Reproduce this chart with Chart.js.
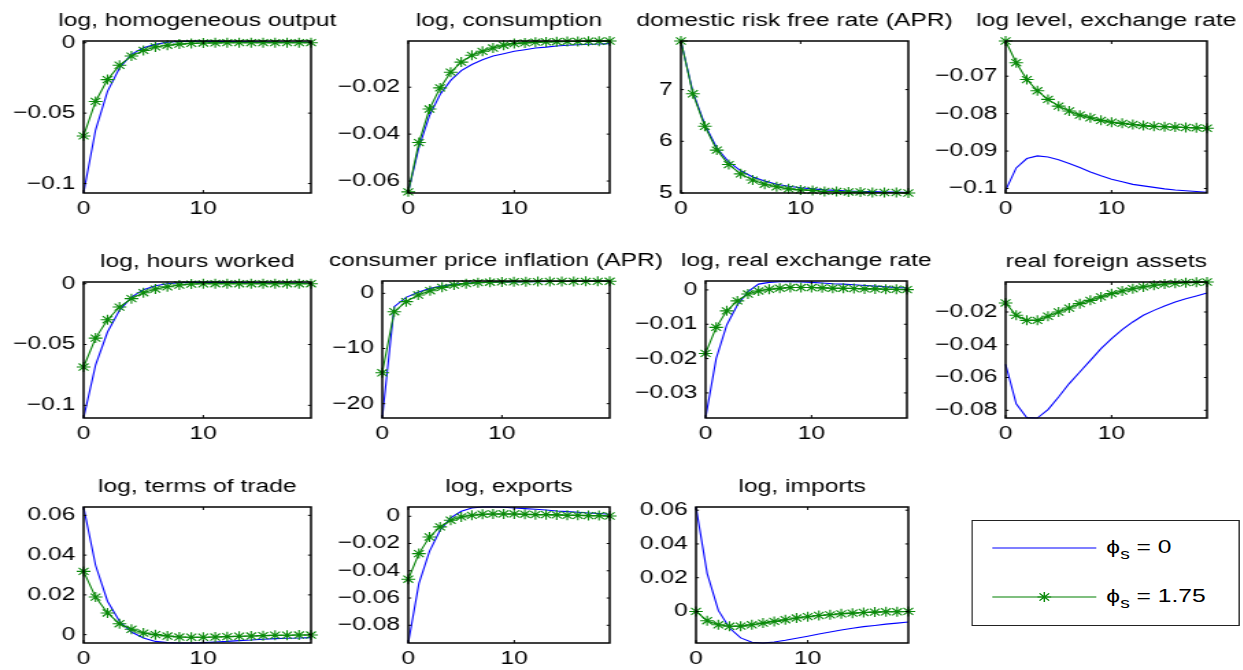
<!DOCTYPE html>
<html>
<head>
<meta charset="utf-8">
<script src="https://cdn.jsdelivr.net/npm/chart.js@4.4.1/dist/chart.umd.min.js"></script>
<style>
  html, body { margin: 0; padding: 0; background: #fff; overflow: hidden; }
  #page { position: absolute; left: 0; top: 0; width: 908px; height: 670px; transform: scaleX(1.37); transform-origin: 0 0; }
  #page canvas { position: absolute; }
  #legend { position: absolute; border: 1.5px solid #222; box-sizing: border-box; background: #fff; }
</style>
</head>
<body>
<div id="page"></div>
<script>
// horizon (quarters after the shock)
const steps = [0, 1, 2, 3, 4, 5, 6, 7, 8, 9, 10, 11, 12, 13, 14, 15, 16, 17, 18, 19];
const xTicks = [0, 10];
const phiValues = ['0', '1.75'];

const titles = [
  'log, homogeneous output', 'log, consumption', 'domestic risk free rate (APR)', 'log level, exchange rate',
  'log, hours worked', 'consumer price inflation (APR)', 'log, real exchange rate', 'real foreign assets',
  'log, terms of trade', 'log, exports', 'log, imports'
];

// phi_s = 0 (blue) and phi_s = 1.75 (green) responses
const outputPhi0 = [-0.1067, -0.062, -0.0345, -0.018, -0.0083, -0.0036, -0.0012, 0.0003, 0.0008, 0.001, 0.001, 0.0009, 0.0008, 0.0007, 0.0006, 0.0005, 0.0004, 0.0003, 0.0003, 0.0002];
const outputPhi175 = [-0.0662, -0.0417, -0.0262, -0.016, -0.0095, -0.0055, -0.003, -0.0018, -0.001, -0.0005, -0.0002, -0.0001, 0, 0, 0, 0, 0, 0, 0, 0];
const consPhi0 = [-0.0646, -0.0457, -0.0321, -0.0231, -0.0171, -0.0129, -0.0103, -0.0083, -0.0067, -0.0057, -0.0047, -0.004, -0.0033, -0.0029, -0.0024, -0.0021, -0.0019, -0.0017, -0.0016, -0.0014];
const consPhi175 = [-0.0646, -0.0436, -0.0293, -0.0203, -0.0136, -0.0093, -0.0064, -0.0047, -0.0033, -0.0021, -0.0014, -0.0011, -0.0008, -0.0007, -0.0006, -0.0005, -0.0005, -0.0004, -0.0004, -0.0003];
const ratePhi0 = [7.94, 6.95, 6.32, 5.87, 5.6, 5.43, 5.31, 5.23, 5.17, 5.13, 5.1, 5.08, 5.06, 5.05, 5.04, 5.03, 5.03, 5.02, 5.02, 5.01];
const ratePhi175 = [7.94, 6.92, 6.29, 5.83, 5.55, 5.37, 5.25, 5.17, 5.12, 5.08, 5.06, 5.05, 5.03, 5.03, 5.02, 5.02, 5.01, 5.01, 5.01, 5.0];
const fxPhi0 = [-0.1005, -0.0945, -0.092, -0.0913, -0.0916, -0.0923, -0.0933, -0.0944, -0.0956, -0.0966, -0.0975, -0.0982, -0.0989, -0.0993, -0.0997, -0.1001, -0.1004, -0.1006, -0.1008, -0.101];
const fxPhi175 = [-0.0606, -0.0664, -0.0709, -0.0739, -0.0762, -0.078, -0.0793, -0.0804, -0.0811, -0.0818, -0.0823, -0.0826, -0.0829, -0.0832, -0.0834, -0.0835, -0.0836, -0.0837, -0.0838, -0.0839];
const hoursPhi0 = [-0.1104, -0.067, -0.0397, -0.0219, -0.011, -0.0049, -0.0016, 0, 0.0008, 0.0011, 0.0012, 0.0011, 0.001, 0.0009, 0.0008, 0.0007, 0.0006, 0.0005, 0.0005, 0.0004];
const hoursPhi175 = [-0.0685, -0.0447, -0.0296, -0.0192, -0.0123, -0.0074, -0.0044, -0.0025, -0.0011, -0.0003, -0.0001, 0, 0, 0, 0, 0, 0, 0, 0, 0];
const cpiPhi0 = [-22.6, -2.42, -0.73, 0.18, 0.9, 1.33, 1.64, 1.82, 1.94, 2.01, 2.06, 2.09, 2.11, 2.13, 2.14, 2.15, 2.16, 2.17, 2.17, 2.18];
const cpiPhi175 = [-14.4, -3.33, -1.5, -0.3, 0.48, 1.09, 1.5, 1.76, 1.94, 2.02, 2.07, 2.1, 2.12, 2.14, 2.15, 2.16, 2.17, 2.18, 2.18, 2.19];
const rerPhi0 = [-0.0373, -0.02, -0.0102, -0.0044, -0.0005, 0.0017, 0.0022, 0.0024, 0.0024, 0.0023, 0.0022, 0.002, 0.0018, 0.0017, 0.0015, 0.0013, 0.0011, 0.0009, 0.0007, 0.0006];
const rerPhi175 = [-0.0185, -0.0109, -0.0061, -0.0032, -0.0012, -0.0003, 0.0002, 0.0005, 0.0007, 0.0007, 0.0007, 0.0006, 0.0005, 0.0005, 0.0004, 0.0003, 0.0003, 0.0002, 0.0002, 0.0001];
const assetsPhi0 = [-0.0519, -0.076, -0.0845, -0.0847, -0.0796, -0.0719, -0.0637, -0.0566, -0.0495, -0.0424, -0.0363, -0.0308, -0.0261, -0.022, -0.019, -0.0163, -0.0139, -0.0119, -0.0102, -0.0084];
const assetsPhi175 = [-0.0145, -0.022, -0.0251, -0.0251, -0.0226, -0.02, -0.0176, -0.0149, -0.0129, -0.0108, -0.0088, -0.0072, -0.0058, -0.0047, -0.0037, -0.0029, -0.0025, -0.0021, -0.0019, -0.0017];
const totPhi0 = [0.0642, 0.0349, 0.0168, 0.0067, 0.0013, -0.0017, -0.0034, -0.004, -0.0042, -0.0042, -0.004, -0.0037, -0.0034, -0.003, -0.0027, -0.0023, -0.002, -0.0018, -0.0017, -0.0015];
const totPhi175 = [0.0318, 0.0189, 0.0109, 0.0055, 0.0027, 0.0008, 0, -0.0007, -0.0012, -0.0013, -0.0013, -0.0012, -0.001, -0.0008, -0.0007, -0.0005, -0.0003, -0.0003, -0.0002, -0.0002];
const exportsPhi0 = [-0.093, -0.0494, -0.0257, -0.0103, -0.0012, 0.0037, 0.0061, 0.0068, 0.0068, 0.0066, 0.0061, 0.0056, 0.0051, 0.0046, 0.0039, 0.0034, 0.0029, 0.0024, 0.002, 0.0015];
const exportsPhi175 = [-0.0462, -0.0274, -0.0152, -0.0078, -0.0029, -0.0005, 0.0007, 0.0015, 0.0017, 0.0017, 0.0017, 0.0015, 0.0012, 0.0012, 0.001, 0.0007, 0.0007, 0.0005, 0.0005, 0.0002];
const importsPhi0 = [0.062, 0.0226, 0.0006, -0.0098, -0.0157, -0.0183, -0.0187, -0.0181, -0.0171, -0.0159, -0.0147, -0.0134, -0.0122, -0.011, -0.01, -0.009, -0.0083, -0.0075, -0.0069, -0.0063];
const importsPhi175 = [0, -0.0055, -0.0079, -0.0088, -0.0087, -0.0079, -0.0069, -0.0059, -0.0049, -0.0039, -0.0031, -0.0024, -0.002, -0.0014, -0.001, -0.0006, -0.0004, -0.0002, -0.0002, 0];

const bluePanels = [outputPhi0, consPhi0, ratePhi0, fxPhi0, hoursPhi0, cpiPhi0, rerPhi0, assetsPhi0, totPhi0, exportsPhi0, importsPhi0];
const greenPanels = [outputPhi175, consPhi175, ratePhi175, fxPhi175, hoursPhi175, cpiPhi175, rerPhi175, assetsPhi175, totPhi175, exportsPhi175, importsPhi175];

// y tick labels and axis limits (tight, as in the original)
const yTicks = [
  [-0.1, -0.05, 0], [-0.06, -0.04, -0.02], [5, 6, 7], [-0.1, -0.09, -0.08, -0.07],
  [-0.1, -0.05, 0], [-20, -10, 0], [-0.03, -0.02, -0.01, 0], [-0.08, -0.06, -0.04, -0.02],
  [0, 0.02, 0.04, 0.06], [-0.08, -0.06, -0.04, -0.02, 0], [0, 0.02, 0.04, 0.06]
];
const yLimits = [
  [-0.1067, 0.0012], [-0.0651, -0.0003], [5.0, 7.94], [-0.1012, -0.0606],
  [-0.1104, 0.0014], [-22.6, 2.24], [-0.0373, 0.0026], [-0.0847, -0.0017],
  [-0.0042, 0.0642], [-0.093, 0.0068], [-0.0187, 0.0619]
];

// layout: plot boxes in page pixels [left, top, right, bottom]
const S = 1.37;
const boxes = [
  [83, 41, 310, 193], [408, 41, 609, 193], [681, 41, 908, 193], [1005, 41, 1207, 193],
  [83, 282, 310, 418], [382, 281, 609, 418], [706, 281, 908, 418], [1005, 282, 1207, 418],
  [83, 507, 310, 643], [408, 507, 609, 643], [696, 507, 908, 643]
];
const YW = 60, TH = 36, XH = 30;
const FONT = '"Liberation Sans", Arial, sans-serif';

Chart.defaults.font.family = FONT;
Chart.defaults.font.size = 18;
Chart.defaults.color = '#000';

const minus = v => String(v).replace('-', '\u2212');

const framePlugin = {
  id: 'frame',
  afterDraw(chart, args, opts) {
    const ctx = chart.ctx;
    const a = chart.chartArea;
    const x = chart.scales.x, y = chart.scales.y;
    ctx.save();
    ctx.strokeStyle = '#000';
    ctx.lineWidth = 1;
    ctx.beginPath();
    x.ticks.forEach(t => {
      const px = x.getPixelForValue(t.value);
      ctx.moveTo(px, a.bottom); ctx.lineTo(px, a.bottom - 3);
      ctx.moveTo(px, a.top); ctx.lineTo(px, a.top + 3);
    });
    y.ticks.forEach(t => {
      const py = y.getPixelForValue(t.value);
      ctx.moveTo(a.left, py); ctx.lineTo(a.left + 2.2, py);
      ctx.moveTo(a.right, py); ctx.lineTo(a.right - 2.2, py);
    });
    ctx.stroke();
    ctx.lineWidth = 1.5;
    ctx.strokeRect(a.left, a.top, a.right - a.left, a.bottom - a.top);
    ctx.fillStyle = '#000';
    ctx.font = '18px ' + FONT;
    ctx.textAlign = 'center';
    ctx.textBaseline = 'alphabetic';
    ctx.fillText(opts.text, (a.left + a.right) / 2, a.top - 15);
    ctx.restore();
  }
};

const page = document.getElementById('page');

boxes.forEach((b, i) => {
  const left = b[0] / S, right = b[2] / S;
  const boxW = Math.round(right - left);
  const boxH = b[3] - b[1];
  const canvas = document.createElement('canvas');
  canvas.width = boxW + 2 * YW;
  canvas.height = boxH + TH + XH;
  canvas.style.left = (left - YW) + 'px';
  canvas.style.top = (b[1] - TH) + 'px';
  page.appendChild(canvas);

  new Chart(canvas, {
    type: 'line',
    data: {
      labels: steps,
      datasets: [
        {
          data: bluePanels[i], borderColor: '#0000ff', borderWidth: 1.1,
          pointRadius: 0, order: 1, clip: false
        },
        {
          data: greenPanels[i], borderColor: '#008000', borderWidth: 1.1,
          pointStyle: 'star', pointRadius: 5, pointBorderColor: '#0a8a0a',
          pointBackgroundColor: '#0a8a0a', pointBorderWidth: 1.1, order: 0, clip: false
        }
      ]
    },
    options: {
      responsive: false,
      animation: false,
      events: [],
      layout: { autoPadding: false, padding: { left: 0, right: YW, top: TH, bottom: 0 } },
      plugins: {
        legend: { display: false },
        tooltip: { enabled: false },
        frame: { text: titles[i] }
      },
      scales: {
        x: {
          type: 'linear', min: 0, max: 19,
          grid: { display: false, drawTicks: false }, border: { display: false },
          ticks: { padding: 5, maxRotation: 0, autoSkip: false },
          afterBuildTicks: axis => { axis.ticks = xTicks.map(v => ({ value: v })); },
          afterFit: axis => { axis.height = XH; }
        },
        y: {
          type: 'linear', min: yLimits[i][0], max: yLimits[i][1],
          grid: { display: false, drawTicks: false }, border: { display: false },
          ticks: { padding: 6, autoSkip: false, callback: v => minus(v) },
          afterBuildTicks: axis => { axis.ticks = yTicks[i].map(v => ({ value: v })); },
          afterFit: axis => { axis.width = YW; }
        }
      }
    },
    plugins: [framePlugin]
  });
});

// legend box
const lg = document.createElement('div');
lg.id = 'legend';
const lgL = 972 / S, lgR = 1240 / S;
lg.style.left = lgL + 'px';
lg.style.top = '520px';
lg.style.width = (lgR - lgL) + 'px';
lg.style.height = '106px';
const lineX0 = (993 - 972) / S, lineX1 = (1097 - 972) / S, starX = (1045 - 972) / S, textX = (1107 - 972) / S;
const rows = [{ y: 28, color: '#0000ff', star: false }, { y: 77, color: '#008000', star: true }];
let svg = '<svg width="' + (lgR - lgL) + '" height="104" style="position:absolute;left:-1.5px;top:-1.5px" xmlns="http://www.w3.org/2000/svg">';
rows.forEach((r, k) => {
  svg += '<line x1="' + lineX0 + '" y1="' + r.y + '" x2="' + lineX1 + '" y2="' + r.y + '" stroke="' + r.color + '" stroke-width="1.1"/>';
  if (r.star) {
    const s = 5, d = s * Math.SQRT1_2;
    svg += '<path d="M' + starX + ' ' + (r.y - s) + 'V' + (r.y + s) + 'M' + (starX - s) + ' ' + r.y + 'H' + (starX + s) +
      'M' + (starX - d) + ' ' + (r.y - d) + 'L' + (starX + d) + ' ' + (r.y + d) +
      'M' + (starX - d) + ' ' + (r.y + d) + 'L' + (starX + d) + ' ' + (r.y - d) + '" stroke="#0a8a0a" stroke-width="1.1" fill="none"/>';
  }
  svg += '<text x="' + textX + '" y="' + (r.y + 5) + '" font-family=\'' + FONT + '\' font-size="18" fill="#000">\u03d5' +
    '<tspan dy="6" font-size="14">s</tspan><tspan dy="-6"> = ' + phiValues[k] + '</tspan></text>';
});
svg += '</svg>';
lg.innerHTML = svg;
page.appendChild(lg);
</script>
</body>
</html>
